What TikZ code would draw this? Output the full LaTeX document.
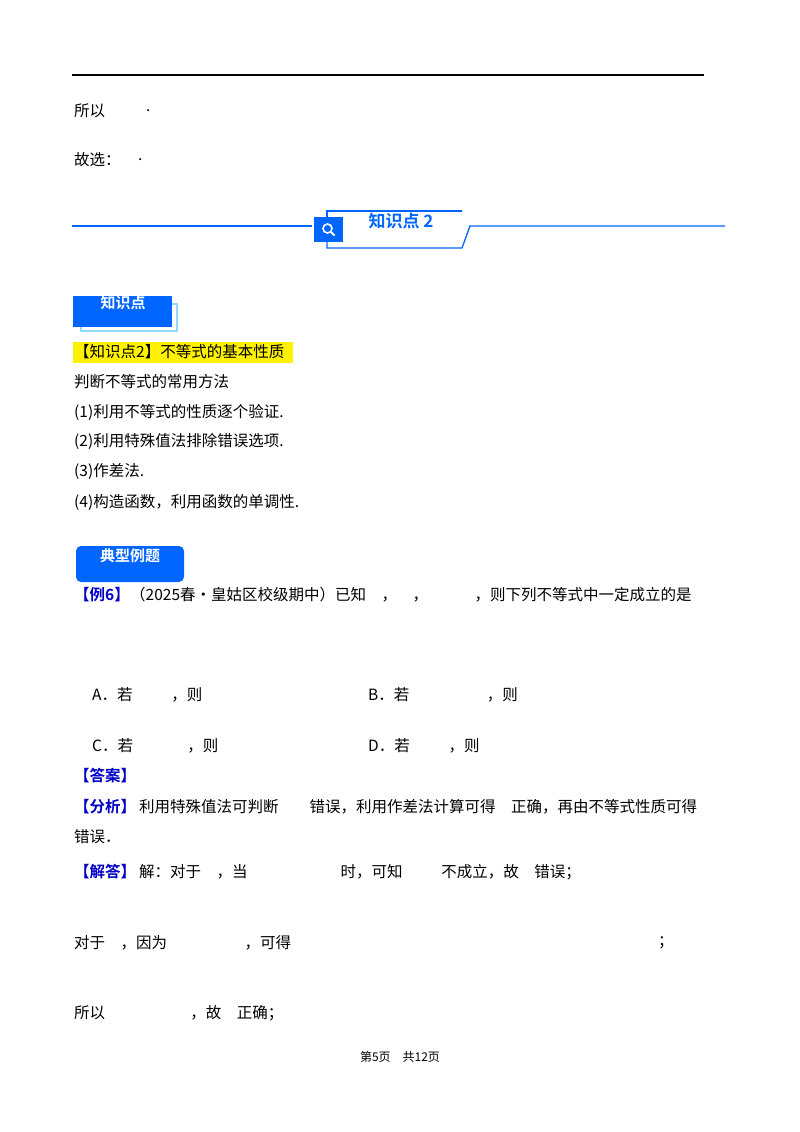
\documentclass[tikz,border=0pt]{standalone}
\usepackage{fontspec}
\setmainfont{Liberation Serif}
\newfontfamily\cjk{Noto Sans CJK SC}
\newfontfamily\cjkb{Noto Sans CJK SC Bold}
\definecolor{bl}{RGB}{0,102,255}
\definecolor{lc}{RGB}{140,220,255}
\definecolor{tb}{RGB}{0,0,200}
\begin{document}
\begin{tikzpicture}[x=1pt,y=-1pt,
 t/.style={anchor=west,inner sep=0pt,font=\cjk\fontsize{15.5}{15.5}\selectfont},
 h/.style={t,text=tb,font=\cjkb\fontsize{15.5}{15.5}\selectfont}]
\useasboundingbox (0,0) rectangle (800,1132);
\fill[white] (0,0) rectangle (800,1132);
\draw[line width=1.5pt] (72,75) -- (704,75);
\node[t] (a1) at (74,111) {所以};
\node[t] (a2) at (146,111) {.};
\node[t] (b1) at (74,160) {故选：};
\node[t] (b2) at (138,160) {.};
% header
\draw[bl,line width=1.3pt] (72,226) -- (312,226);
\draw[bl,line width=1.3pt] (327,217) -- (327,211) -- (462,211);
\draw[bl,line width=1.3pt] (327,242) -- (327,248) -- (462,248) -- (470,226) -- (725,226);
\fill[bl] (314,217) rectangle (343,242);
\draw[white,line width=1.6pt] (327.5,228.5) circle (4.5);
\draw[white,line width=2pt] (330.8,231.8) -- (334.5,235.5);
\node[inner sep=0pt,text=bl,font=\cjkb\fontsize{17}{17}\selectfont] (hd) at (401,221) {知识点 2};
% zhishidian box
\fill[lc] (80,303) rectangle (178,332);
\fill[white] (82,305) rectangle (176,330);
\fill[bl] (73,296) rectangle (172,327);
\node[inner sep=0pt,text=white,font=\cjkb\fontsize{15}{15}\selectfont] (zs) at (123,303) {知识点};
\fill[yellow] (73,342) rectangle (293,363);
\node[t] (k1) at (74,352) {【知识点2】不等式的基本性质};
\node[t] (k2) at (74,382) {判断不等式的常用方法};
\node[t] (k3) at (74,412) {(1)利用不等式的性质逐个验证.};
\node[t] (k4) at (74,441) {(2)利用特殊值法排除错误选项.};
\node[t] (k5) at (74,471) {(3)作差法.};
\node[t] (k6) at (74,502) {(4)构造函数，利用函数的单调性.};
% example box
\fill[bl,rounded corners=5pt] (76,546) rectangle (184,582);
\node[inner sep=0pt,text=white,font=\cjkb\fontsize{15}{15}\selectfont] (dx) at (130,556) {典型例题};
\node[h] (e1) at (74,595) {【例6】};
\node[t] (e2) at (130,595) {（2025春•皇姑区校级期中）已知\hspace{1em}，\hspace{1em}，\hspace{3em}，则下列不等式中一定成立的是};
\node[t] (oa) at (92,695) {A．若\hspace{2.5em}，则};
\node[t] (ob) at (368,695) {B．若\hspace{5em}，则};
\node[t] (oc) at (92,746) {C．若\hspace{3.5em}，则};
\node[t] (od) at (368,746) {D．若\hspace{2.5em}，则};
\node[h] (an) at (74,776) {【答案】};
\node[h] (fx) at (74,807) {【分析】};
\node[t] (f1) at (139,807) {利用特殊值法可判断\hspace{2em}错误，利用作差法计算可得\hspace{1em}正确，再由不等式性质可得};
\node[t] (f2) at (74,837) {错误．};
\node[h] (jd) at (74,872) {【解答】};
\node[t] (j1) at (139,872) {解：对于\hspace{1em}，当\hspace{6em}时，可知\hspace{2.5em}不成立，故\hspace{1em}错误；};
\node[t] (d1) at (74,943) {对于\hspace{1em}，因为\hspace{5em}，可得};
\node[t] (d2) at (658,943) {；};
\node[t] (s1) at (74,1013) {所以\hspace{5.5em}，故\hspace{1em}正确；};
\node[inner sep=0pt,font=\cjk\fontsize{12}{12}\selectfont] (ft) at (400,1057) {第5页\quad 共12页};
\end{tikzpicture}
\end{document}
